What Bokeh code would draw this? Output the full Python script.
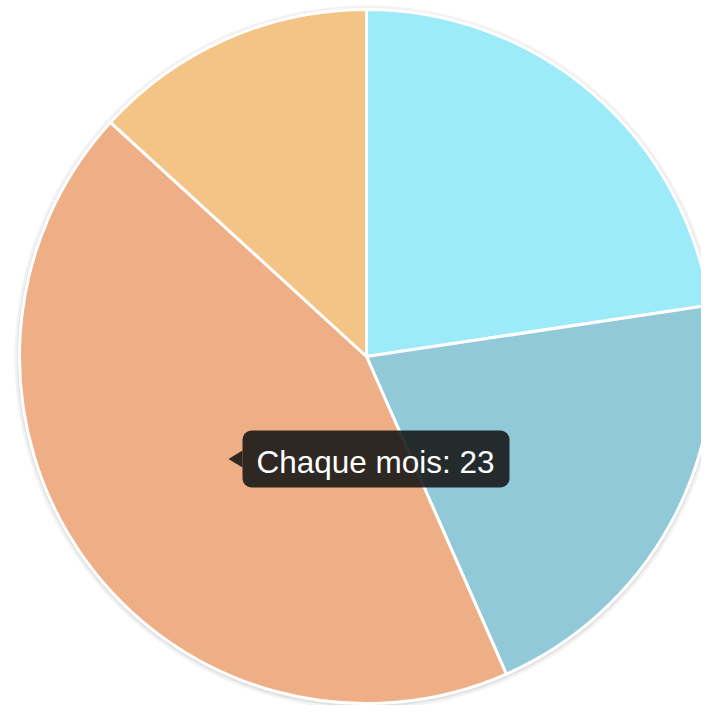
import math
from bokeh.plotting import figure
from bokeh.models import ColumnDataSource, BoxAnnotation, Label
from bokeh.embed import file_html
from bokeh.resources import INLINE

# Data (clockwise from 12 o'clock)
categories = ["Chaque semaine", "Chaque jour", "Chaque mois", "Chaque année"]
values = [12, 11, 23, 7]
colors = ["#9DEBF9", "#91C9D8", "#EFAF86", "#F4C486"]

W, H = 701, 705
cx, cy, R = 366, 705 - 356, 347

total = float(sum(values))
starts, ends = [], []
acc = 0.0
for v in values:
    a0 = acc / total * 2 * math.pi
    acc += v
    a1 = acc / total * 2 * math.pi
    starts.append(math.pi / 2 - a1)
    ends.append(math.pi / 2 - a0)

src = ColumnDataSource(dict(cat=categories, val=values, color=colors,
                            start=starts, end=ends,
                            x=[cx] * len(values), y=[cy] * len(values)))

p = figure(width=W, height=H, x_range=(0, W), y_range=(0, H),
           output_backend="svg", toolbar_location=None, min_border=0)
p.axis.visible = False
p.grid.visible = False
p.outline_line_color = None
p.background_fill_color = "white"

# soft shadow around the pie
p.circle(x=[cx], y=[cy - 1], radius=R + 5, radius_units="screen",
         fill_color="#cfcfcf", fill_alpha=0.25, line_color=None)
p.circle(x=[cx], y=[cy - 1], radius=R + 2.5, radius_units="screen",
         fill_color="#cccccc", fill_alpha=0.45, line_color=None)

p.wedge(x="x", y="y", radius=R, radius_units="screen",
        start_angle="start", end_angle="end",
        fill_color="color", line_color="white", line_width=3, source=src)

# static tooltip for the "Chaque mois" slice
idx = categories.index("Chaque mois")
label = f"{categories[idx]}: {values[idx]}"
box = BoxAnnotation(left=242, right=509, top=275, bottom=218,
                    fill_color="#141414", fill_alpha=0.88, line_color=None,
                    border_radius=9)
p.add_layout(box)
p.patch(x=[242, 228, 242], y=[255, 246.5, 238], fill_color="#141414",
        fill_alpha=0.88, line_color=None)
p.add_layout(Label(x=256, y=244, text=label, text_color="white",
                   text_font="Liberation Sans", text_font_size="31.5px",
                   text_baseline="middle", text_align="left"))

open("out.html", "w").write(file_html(p, INLINE))
